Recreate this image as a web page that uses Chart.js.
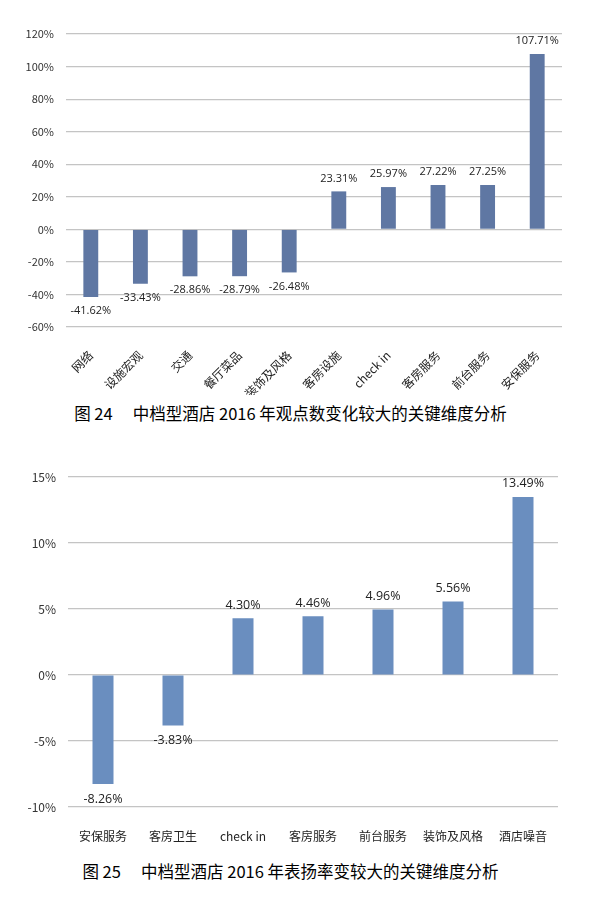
<!DOCTYPE html>
<html>
<head>
<meta charset="utf-8">
<script src="https://cdn.jsdelivr.net/npm/chart.js@4.4.1/dist/chart.umd.min.js"></script>
<style>
  body { margin: 0; background: #fff; width: 597px; height: 905px; position: relative; overflow: hidden; }
  canvas { position: absolute; left: 0; }
  #c1 { top: 0; }
  #c2 { top: 440px; }
  .cap { position: absolute; left: 0; width: 597px; text-align: center; font-family: "Noto Sans CJK SC", sans-serif; font-size: 16.5px; font-weight: normal; color: #000; white-space: pre; }
</style>
</head>
<body>
<canvas id="c1" width="597" height="395"></canvas>
<div class="cap" style="top:401px; left:-8px;">图 24　 中档型酒店 2016 年观点数变化较大的关键维度分析</div>
<canvas id="c2" width="597" height="410"></canvas>
<div class="cap" style="top:859px; left:-8px;">图 25　 中档型酒店 2016 年表扬率变较大的关键维度分析</div>
<script>
// 图24 数据
var cats1 = ["网络", "设施宏观", "交通", "餐厅菜品", "装饰及风格", "客房设施", "check in", "客房服务", "前台服务", "安保服务"];
var vals1 = [-41.62, -33.43, -28.86, -28.79, -26.48, 23.31, 25.97, 27.22, 27.25, 107.71];
var ticks1 = [-60, 120, 20];

// 图25 数据
var cats2 = ["安保服务", "客房卫生", "check in", "客房服务", "前台服务", "装饰及风格", "酒店噪音"];
var vals2 = [-8.26, -3.83, 4.30, 4.46, 4.96, 5.56, 13.49];
var ticks2 = [-10, 15, 5];

Chart.defaults.font.family = "'Noto Sans CJK SC', 'Noto Sans', sans-serif";
Chart.defaults.color = "#333";

// 柱子上的数值标签
var valueLabels = {
  id: "valueLabels",
  afterDatasetsDraw: function (chart, args, o) {
    var ctx = chart.ctx;
    var meta = chart.getDatasetMeta(0);
    var data = chart.data.datasets[0].data;
    ctx.save();
    ctx.font = o.size + "px 'Open Sans', 'Noto Sans', sans-serif";
    ctx.fillStyle = "#222";
    ctx.textAlign = "center";
    ctx.textBaseline = "middle";
    meta.data.forEach(function (bar, i) {
      var v = data[i];
      var y = v < 0 ? bar.y + o.below : bar.y - 13;
      ctx.fillText(v.toFixed(2) + "%", bar.x, y);
    });
    ctx.restore();
  }
};

function makeChart(id, cats, vals, t, color, opts) {
  return new Chart(document.getElementById(id), {
    type: "bar",
    data: {
      labels: cats,
      datasets: [{
        data: vals,
        backgroundColor: color,
        barPercentage: 0.6,
        categoryPercentage: 0.5
      }]
    },
    options: {
      responsive: false,
      animation: false,
      layout: { padding: opts.padding },
      plugins: {
        legend: { display: false },
        tooltip: { enabled: false },
        valueLabels: { size: opts.lab, below: opts.below }
      },
      scales: {
        x: {
          grid: { display: false },
          border: { display: false },
          ticks: {
            autoSkip: false,
            minRotation: opts.rot,
            maxRotation: opts.rot,
            padding: opts.xpad,
            color: "#222",
            font: { size: 12 }
          },
          afterFit: function (s) { s.height = opts.xh; }
        },
        y: {
          min: t[0],
          max: t[1],
          grid: { color: "#c4c4c4", lineWidth: 1.2, drawTicks: false },
          border: { display: false },
          ticks: {
            stepSize: t[2],
            padding: 12,
            color: "#333",
            font: { size: opts.yf },
            callback: function (v) { return v + "%"; }
          },
          afterFit: function (s) { s.width = opts.yw; }
        }
      }
    },
    plugins: [valueLabels]
  });
}

makeChart("c1", cats1, vals1, ticks1, "#5f77a3", {
  padding: { top: 34, right: 35, left: 0, bottom: 0 },
  rot: 45, xpad: 13, xh: 68, yw: 66, yf: 11, lab: 11, below: 14
});

makeChart("c2", cats2, vals2, ticks2, "#6a8ebf", {
  padding: { top: 37, right: 39, left: 0, bottom: 0 },
  rot: 0, xpad: 14, xh: 43, yw: 68, yf: 12, lab: 12.5, below: 15
});
</script>
</body>
</html>
